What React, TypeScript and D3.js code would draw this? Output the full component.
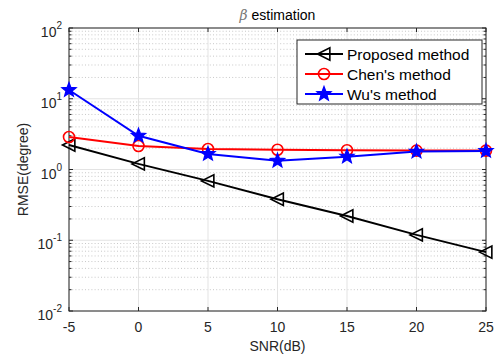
import React from "react";
import * as d3 from "d3";

const snr = [-5, 0, 5, 10, 15, 20, 25];
const proposed = [2.22, 1.2, 0.69, 0.38, 0.22, 0.119, 0.068];
const chen = [2.88, 2.15, 1.95, 1.9, 1.87, 1.85, 1.85];
const wu = [13.3, 3.0, 1.66, 1.33, 1.52, 1.79, 1.83];
const xTicks = [-5, 0, 5, 10, 15, 20, 25];
const yExps = [-2, -1, 0, 1, 2];
const seriesNames = ["Proposed method", "Chen's method", "Wu's method"];

const W = 497, H = 363;
const L = 69, R = 486, T = 28, B = 311;
const FONT = "'Liberation Sans', Arial, Helvetica, sans-serif";

function starPath(cx: number, cy: number, ro: number, ri: number) {
  const pts: string[] = [];
  for (let i = 0; i < 10; i++) {
    const r = i % 2 === 0 ? ro : ri;
    const a = -Math.PI / 2 + (i * Math.PI) / 5;
    pts.push(`${cx + r * Math.cos(a)},${cy + r * Math.sin(a)}`);
  }
  return "M" + pts.join("L") + "Z";
}
function triPath(cx: number, cy: number, s: number) {
  return `M${cx - s},${cy}L${cx + s * 0.9},${cy - s * 0.95}L${cx + s * 0.9},${cy + s * 0.95}Z`;
}

export default function App() {
  const x = d3.scaleLinear().domain([-5, 25]).range([L, R]);
  const y = d3.scaleLog().domain([0.01, 100]).range([B, T]);
  const line = d3.line<number>().x((_, i) => x(snr[i])).y((d) => y(d));

  const minor: number[] = [];
  for (let e = -2; e < 2; e++) for (let m = 2; m <= 9; m++) minor.push(m * Math.pow(10, e));

  const series = [
    { data: proposed, color: "#000000", marker: "tri" },
    { data: chen, color: "#ff0000", marker: "circ" },
    { data: wu, color: "#0000ff", marker: "star" },
  ];
  const marker = (kind: string, cx: number, cy: number, color: string, key: any) => {
    if (kind === "tri")
      return <path key={key} d={triPath(cx, cy, 6.5)} fill="none" stroke={color} strokeWidth={1.6} />;
    if (kind === "circ")
      return <circle key={key} cx={cx} cy={cy} r={5.5} fill="none" stroke={color} strokeWidth={1.6} />;
    return <path key={key} d={starPath(cx, cy, 7.5, 3.2)} fill={color} stroke={color} strokeWidth={1.2} />;
  };

  const legX = 297, legY = 40, legW = 185, legH = 64;

  return (
    <svg width={W} height={H} style={{ position: "absolute", left: 0, top: 0 }} fontFamily={FONT}>
      <rect x={0} y={0} width={W} height={H} fill="#fff" />
      <rect x={L} y={T} width={R - L} height={B - T} fill="#fff" />
      {/* minor grid */}
      {minor.map((v, i) => (
        <line key={"mg" + i} x1={L} x2={R} y1={y(v)} y2={y(v)} stroke="#c8c8c8" strokeWidth={1} strokeDasharray="1 2.2" />
      ))}
      {/* major grid */}
      {xTicks.map((t) => (
        <line key={"xg" + t} x1={x(t)} x2={x(t)} y1={T} y2={B} stroke="#e3e3e3" strokeWidth={1} />
      ))}
      {yExps.map((e) => (
        <line key={"yg" + e} x1={L} x2={R} y1={y(Math.pow(10, e))} y2={y(Math.pow(10, e))} stroke="#e3e3e3" strokeWidth={1} />
      ))}
      {/* axes box */}
      <rect x={L} y={T} width={R - L} height={B - T} fill="none" stroke="#262626" strokeWidth={1} />
      {/* ticks */}
      {xTicks.map((t) => (
        <g key={"xt" + t}>
          <line x1={x(t)} x2={x(t)} y1={B} y2={B - 4} stroke="#262626" />
          <line x1={x(t)} x2={x(t)} y1={T} y2={T + 4} stroke="#262626" />
          <text x={x(t)} y={B + 21} textAnchor="middle" fontSize={14} fill="#262626">{t}</text>
        </g>
      ))}
      {yExps.map((e) => (
        <g key={"yt" + e}>
          <line x1={L} x2={L + 4} y1={y(Math.pow(10, e))} y2={y(Math.pow(10, e))} stroke="#262626" />
          <line x1={R} x2={R - 4} y1={y(Math.pow(10, e))} y2={y(Math.pow(10, e))} stroke="#262626" />
          <text x={L - 7} y={y(Math.pow(10, e)) + 9} textAnchor="end" fontSize={14} fill="#262626">
            10<tspan dy={-8} fontSize={10}>{e}</tspan>
          </text>
        </g>
      ))}
      {minor.map((v, i) => (
        <g key={"mt" + i}>
          <line x1={L} x2={L + 2.5} y1={y(v)} y2={y(v)} stroke="#262626" />
          <line x1={R} x2={R - 2.5} y1={y(v)} y2={y(v)} stroke="#262626" />
        </g>
      ))}
      {/* series */}
      {series.map((s, si) => (
        <g key={"s" + si}>
          <path d={line(s.data) || ""} fill="none" stroke={s.color} strokeWidth={2} />
          {s.data.map((d, i) => marker(s.marker, x(snr[i]), y(d), s.color, i))}
        </g>
      ))}
      {/* labels */}
      <text x={(L + R) / 2} y={351} textAnchor="middle" fontSize={14} fill="#262626">SNR(dB)</text>
      <text transform={`translate(28,${(T + B) / 2}) rotate(-90)`} textAnchor="middle" fontSize={14} fill="#262626">RMSE(degree)</text>
      <text x={(L + R) / 2} y={20} textAnchor="middle" fontSize={14} fill="#000">
        <tspan fontStyle="italic" fontFamily="'DejaVu Serif', serif" fill="#777">β</tspan> estimation
      </text>
      {/* legend */}
      <rect x={legX} y={legY} width={legW} height={legH} fill="#fff" stroke="#262626" strokeWidth={1} />
      {series.map((s, i) => {
        const cy = legY + 14 + i * 20;
        return (
          <g key={"lg" + i}>
            <line x1={305} x2={343} y1={cy} y2={cy} stroke={s.color} strokeWidth={2} />
            {marker(s.marker, 324, cy, s.color, "m")}
            <text x={347} y={cy + 5.5} fontSize={15.5} fill="#000">{seriesNames[i]}</text>
          </g>
        );
      })}
    </svg>
  );
}
